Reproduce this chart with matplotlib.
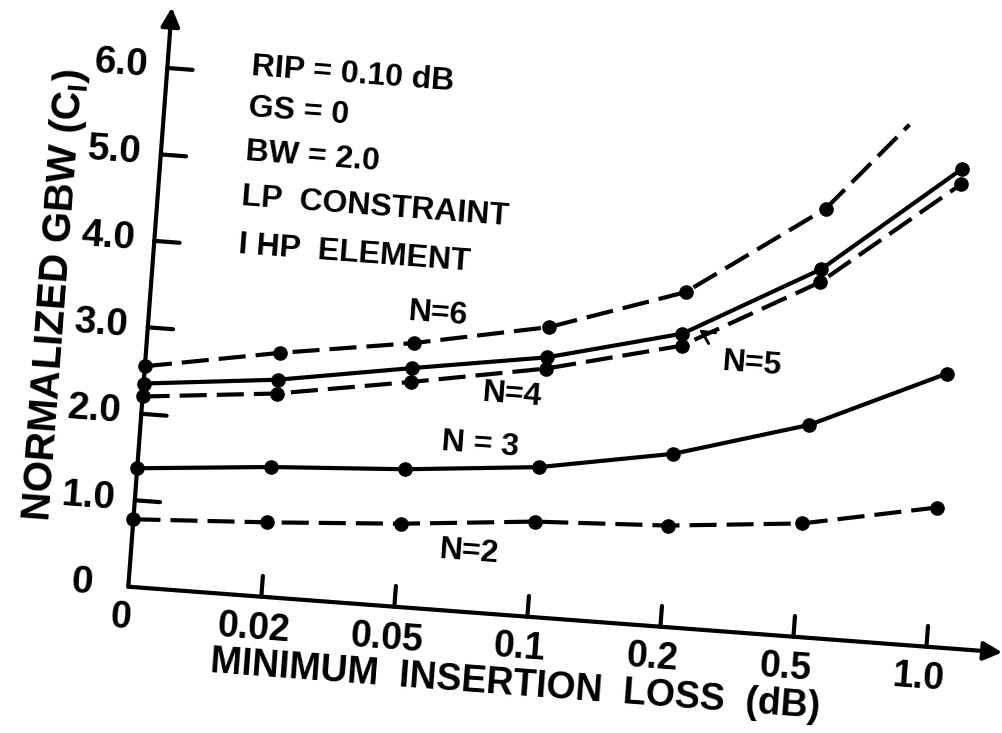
import matplotlib
matplotlib.use("Agg")
import matplotlib.pyplot as plt
from matplotlib.transforms import Affine2D

plt.rcParams['font.family'] = ['Liberation Sans', 'DejaVu Sans']
plt.rcParams['font.weight'] = 'bold'
plt.rcParams['mathtext.default'] = 'regular'

# data (category index on x, GBW on y)
x_labels = ['0', '0.02', '0.05', '0.1', '0.2', '0.5', '1.0']
y_ticks = [0, 1.0, 2.0, 3.0, 4.0, 5.0, 6.0]
y_tick_labels = ['0', '1.0', '2.0', '3.0', '4.0', '5.0', '6.0']

n2 = [0.78, 0.86, 0.96, 1.10, 1.17, 1.31, 1.61]
n3 = [1.37, 1.50, 1.59, 1.73, 2.00, 2.45, 3.16]
n4 = [2.20, 2.35, 2.60, 2.87, 3.25, 4.10, 5.35]
n5 = [2.35, 2.51, 2.76, 3.00, 3.39, 4.25, 5.53]
n6 = [2.55, 2.82, 3.05, 3.35, 3.87, 4.95]
n6_tail = (5.58, 5.99)   # end of the dashed N=6 curve (no marker)

notes = ['RIP = 0.10 dB', 'GS = 0', 'BW = 2.0', 'LP  CONSTRAINT', 'I HP  ELEMENT']

fig = plt.figure(figsize=(10.02, 7.33), dpi=100)
ax = fig.add_axes([0, 0, 1, 1])
ax.set_xlim(0, 1002)
ax.set_ylim(733, 0)
ax.axis('off')

# the scan is tilted ~4.3 deg clockwise
tilt = 4.3
T = Affine2D().scale(133.4, -86.7).rotate_deg(tilt).translate(128.3, 586.7) + ax.transData

lw = 3.0
ms = 9.5
dash = (6.5, 2.4)

# axes with arrows
ax.annotate('', xy=(6.57, 0), xytext=(0, 0), xycoords=T, textcoords=T,
            arrowprops=dict(arrowstyle='-|>', lw=lw, color='black', mutation_scale=28,
                            shrinkA=0, shrinkB=0))
ax.annotate('', xy=(0, 6.7), xytext=(0, 0), xycoords=T, textcoords=T,
            arrowprops=dict(arrowstyle='-|>', lw=lw, color='black', mutation_scale=28,
                            shrinkA=0, shrinkB=0))

for v, s in zip(y_ticks, y_tick_labels):
    if v > 0:
        ax.plot([0, 0.19], [v, v], color='black', lw=lw, transform=T, solid_capstyle='round')
    ax.text(-0.35, v, s, transform=T, ha='center', va='center', fontsize=28,
            rotation=-tilt, rotation_mode='anchor')

for i, s in enumerate(x_labels):
    if i > 0:
        ax.plot([i, i], [0, 0.24], color='black', lw=lw, transform=T, solid_capstyle='round')
    ax.text(i - 0.04, -0.37, s, transform=T, ha='center', va='center', fontsize=27,
            rotation=-tilt, rotation_mode='anchor')

ax.text(2.95, -0.80, 'MINIMUM  INSERTION  LOSS  (dB)', transform=T, ha='center', va='center',
        fontsize=27, rotation=-tilt, rotation_mode='anchor')
ax.text(-0.71, 3.29, 'NORMALIZED GBW (C$_{I}$)', transform=T, ha='center', va='center',
        fontsize=29, rotation=90 - tilt, rotation_mode='anchor')

# curves
xs = list(range(7))
ax.plot(xs, n2, color='black', lw=lw, dashes=dash, marker='o', ms=ms, transform=T)
ax.plot(xs, n3, color='black', lw=lw, marker='o', ms=ms, transform=T)
ax.plot(xs, n4, color='black', lw=lw, dashes=dash, marker='o', ms=ms, transform=T)
ax.plot(xs, n5, color='black', lw=lw, marker='o', ms=ms, transform=T)
ax.plot(xs[:6], n6, color='black', lw=lw, dashes=dash, marker='o', ms=ms, transform=T)
ax.plot([xs[5], n6_tail[0]], [n6[-1], n6_tail[1]], color='black', lw=lw, dashes=dash,
        transform=T)

# notes block
for k, s in enumerate(notes):
    yv = [6.08, 5.61, 5.10, 4.58, 4.03][k]
    ax.text(0.63, yv, s, transform=T, ha='left', va='center', fontsize=23,
            rotation=-tilt, rotation_mode='anchor')

# curve labels
ax.text(2.16, 3.40, 'N=6', transform=T, ha='center', va='center', fontsize=23,
        rotation=-tilt, rotation_mode='anchor')
ax.text(2.76, 2.53, 'N=4', transform=T, ha='center', va='center', fontsize=23,
        rotation=-tilt, rotation_mode='anchor')
ax.text(2.55, 1.93, 'N = 3', transform=T, ha='center', va='center', fontsize=23,
        rotation=-tilt, rotation_mode='anchor')
ax.text(2.53, 0.69, 'N=2', transform=T, ha='center', va='center', fontsize=23,
        rotation=-tilt, rotation_mode='anchor')
ax.annotate('N=5', xy=(4.12, 3.45), xytext=(4.54, 3.10), xycoords=T, textcoords=T,
            ha='center', va='center', fontsize=23, rotation=-tilt, rotation_mode='anchor',
            arrowprops=dict(arrowstyle='->', lw=2, color='black', shrinkA=14, shrinkB=0))

fig.savefig('out.png', dpi=100)
